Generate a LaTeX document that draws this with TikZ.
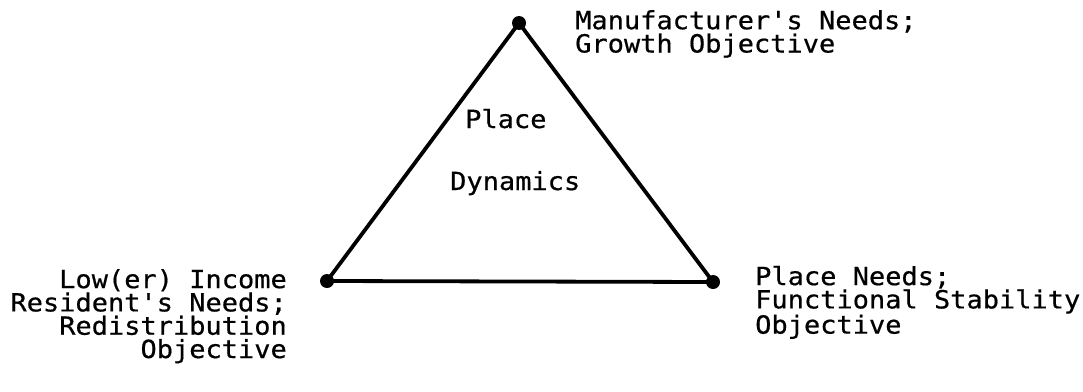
\documentclass[tikz,border=0pt]{standalone}
\usepackage{fontspec}
\setmonofont[FakeStretch=1.08,FakeBold=0.6]{DejaVu Sans Mono}
\begin{document}
\begin{tikzpicture}[x=1pt,y=-1pt,
  lbl/.style={font=\ttfamily\fontsize{25}{23.3}\selectfont, inner sep=0pt},
  dot/.style={circle, fill=black, inner sep=0pt, minimum size=14pt},
  edge/.style={line width=3.8pt, line join=round, line cap=round}]
\useasboundingbox (0,0) rectangle (1083,391);
\node[dot] (T) at (519,23) {};
\node[dot] (L) at (327,281) {};
\node[dot] (R) at (713,282) {};
\draw[edge] (T.center) -- (L.center) -- (R.center) -- cycle;
\node[lbl, align=left, anchor=base west] (tlab) at (575,52.5) {Manufacturer's Needs;\\Growth Objective};
\node[lbl, align=right, anchor=base east] (llab) at (287,358) {Low(er) Income\\Resident's Needs;\\Redistribution\\Objective};
\node[lbl, align=left, anchor=base west] (rlab) at (755,333.6) {Place Needs;\\Functional Stability\\Objective};
\node[lbl, anchor=base west] (place) at (465,128) {Place};
\node[lbl, anchor=base west] (dyn) at (450,190) {Dynamics};
\end{tikzpicture}
\end{document}
